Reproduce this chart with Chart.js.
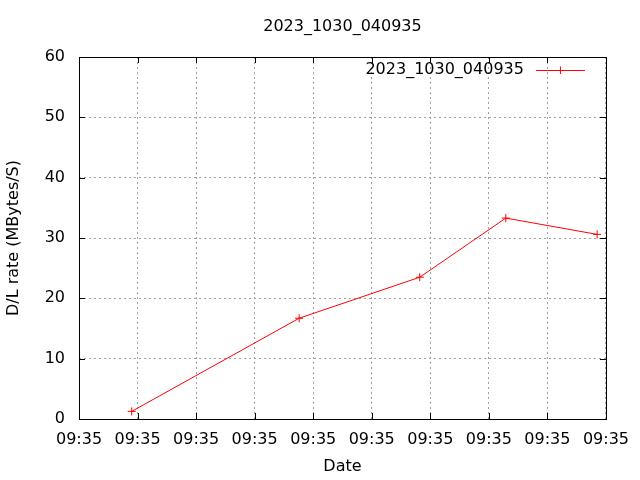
<!DOCTYPE html>
<html>
<head>
<meta charset="utf-8">
<script src="https://cdn.jsdelivr.net/npm/chart.js@4"></script>
<style>
html,body{margin:0;padding:0;background:#fff;}
#wrap{width:640px;height:480px;position:relative;}
</style>
</head>
<body>
<div id="wrap"><canvas id="c" width="640" height="480"></canvas></div>
<script>
const chartTitle = '2023_1030_040935';
const seriesLabel = '2023_1030_040935';
const xPositions = [0.90, 3.76, 5.82, 7.29, 8.85];
const rateValues = [1.26, 16.7, 23.5, 33.3, 30.6];
const xTickLabels = ['09:35','09:35','09:35','09:35','09:35','09:35','09:35','09:35','09:35','09:35'];
const yTickValues = [0, 10, 20, 30, 40, 50, 60];
const xAxisTitle = 'Date';
const yAxisTitle = 'D/L rate (MBytes/S)';

const FONT = "'DejaVu Sans', sans-serif";

const framePlugin = {
  id: 'frame',
  afterDraw(chart) {
    const {ctx, chartArea: a, scales} = chart;
    ctx.save();
    ctx.strokeStyle = '#000';
    ctx.lineWidth = 1;
    ctx.setLineDash([]);
    ctx.strokeRect(Math.round(a.left) + 0.5, Math.round(a.top) + 0.5,
                   Math.round(a.right - a.left), Math.round(a.bottom - a.top));
    const tl = 6;
    ctx.beginPath();
    scales.x.ticks.forEach(t => {
      const px = Math.round(scales.x.getPixelForValue(t.value)) + 0.5;
      ctx.moveTo(px, a.bottom); ctx.lineTo(px, a.bottom - tl);
      ctx.moveTo(px, a.top); ctx.lineTo(px, a.top + tl);
    });
    scales.y.ticks.forEach(t => {
      const py = Math.round(scales.y.getPixelForValue(t.value)) + 0.5;
      ctx.moveTo(a.left, py); ctx.lineTo(a.left + tl, py);
      ctx.moveTo(a.right, py); ctx.lineTo(a.right - tl, py);
    });
    ctx.stroke();

    // title centred over the plot area
    ctx.font = '16px ' + FONT;
    ctx.fillStyle = '#000';
    ctx.textAlign = 'center';
    ctx.textBaseline = 'middle';
    ctx.fillText(chartTitle, (a.left + a.right) / 2, 27);

    // key (legend) inside the plot, top right
    const ds = chart.data.datasets[0];
    const ky = a.top + 13;
    ctx.textAlign = 'right';
    ctx.fillText(ds.label, a.right - 82, ky);
    ctx.strokeStyle = ds.borderColor;
    ctx.beginPath();
    ctx.moveTo(a.right - 70, ky + 0.5); ctx.lineTo(a.right - 21, ky + 0.5);
    ctx.moveTo(a.right - 45.5, ky - 3.5); ctx.lineTo(a.right - 45.5, ky + 4);
    ctx.stroke();
    ctx.restore();
  }
};

new Chart(document.getElementById('c'), {
  type: 'line',
  data: {
    datasets: [{
      label: seriesLabel,
      data: xPositions.map((x, i) => ({x: x, y: rateValues[i]})),
      borderColor: '#ff0000',
      backgroundColor: '#ff0000',
      borderWidth: 1,
      pointStyle: 'cross',
      pointRadius: 4,
      pointBorderWidth: 1,
      pointHoverRadius: 4,
      tension: 0,
      fill: false
    }]
  },
  options: {
    responsive: false,
    animation: false,
    events: [],
    layout: {padding: {left: 0, right: 34, top: 57, bottom: 0}},
    plugins: {
      legend: {display: false},
      tooltip: {enabled: false},
      title: {display: false}
    },
    scales: {
      x: {
        type: 'linear',
        min: 0, max: 9,
        afterFit(scale) { scale.height = 61; },
        afterBuildTicks(scale) {
          scale.ticks = xTickLabels.map((_, i) => ({value: i}));
        },
        ticks: {
          autoSkip: false,
          maxRotation: 0,
          color: '#000',
          font: {family: FONT, size: 16},
          padding: 11,
          callback: (v, i) => xTickLabels[i]
        },
        grid: {
          color: '#a0a0a0',
          lineWidth: 1,
          drawTicks: false,
          tickLength: 0
        },
        border: {display: false, dash: [2, 3]},
        title: {
          display: true,
          text: xAxisTitle,
          color: '#000',
          font: {family: FONT, size: 16, lineHeight: 1.2},
          padding: {top: 0, bottom: 4}
        }
      },
      y: {
        type: 'linear',
        min: 0, max: 60,
        afterFit(scale) { scale.width = 79; },
        afterBuildTicks(scale) {
          scale.ticks = yTickValues.map(v => ({value: v}));
        },
        ticks: {
          color: '#000',
          font: {family: FONT, size: 16},
          padding: 14
        },
        grid: {
          color: '#a0a0a0',
          lineWidth: 1,
          drawTicks: false,
          tickLength: 0
        },
        border: {display: false, dash: [2, 3]},
        title: {
          display: true,
          text: yAxisTitle,
          color: '#000',
          font: {family: FONT, size: 16, lineHeight: 1.2},
          padding: {top: 4, bottom: 0}
        }
      }
    }
  },
  plugins: [framePlugin]
});
</script>
</body>
</html>
